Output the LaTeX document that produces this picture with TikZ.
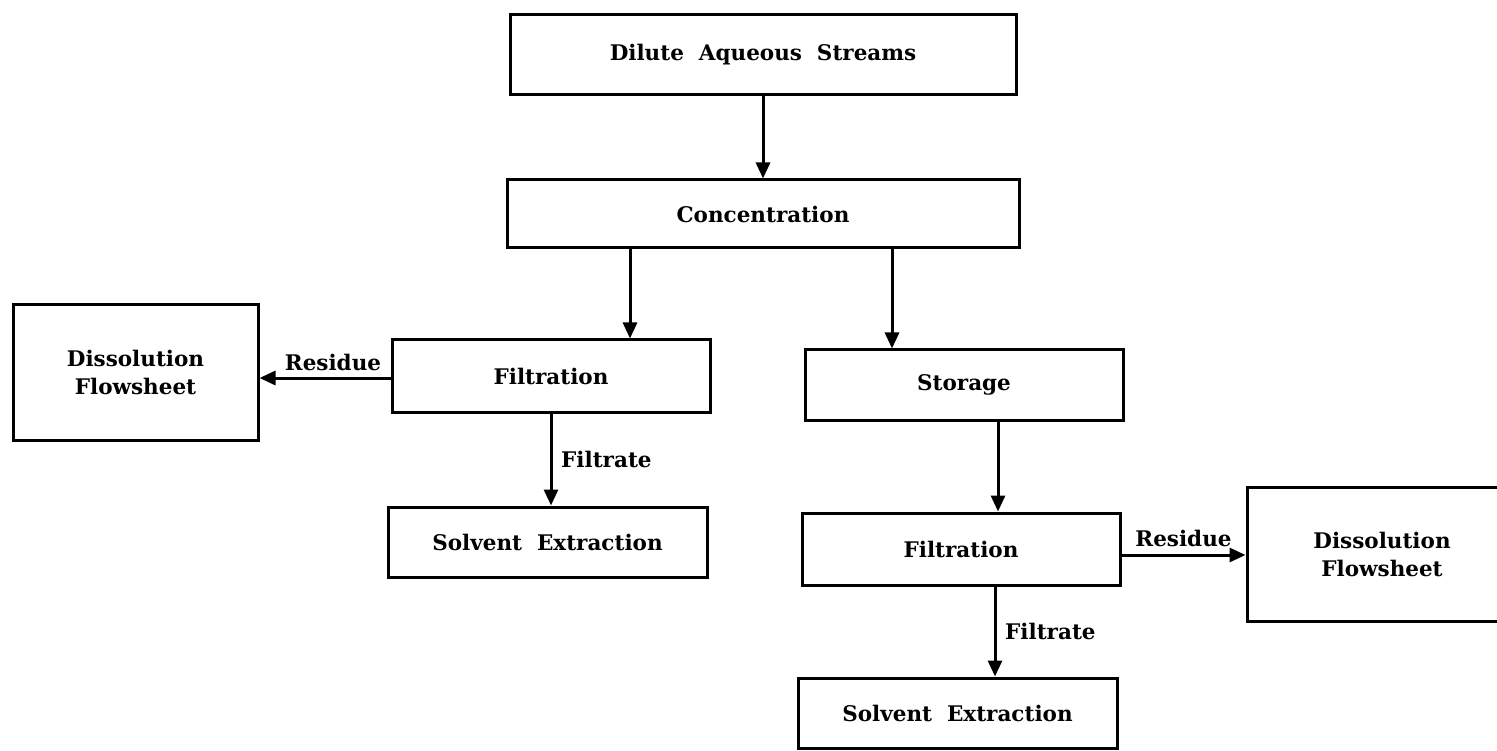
\documentclass[tikz,border=0pt]{standalone}
\usepackage{fontspec}
\setmainfont{DejaVu Serif}
\usetikzlibrary{arrows.meta}
\tikzset{
  box/.style={draw, line width=3pt, inner sep=0pt, align=center, font=\fontsize{21.5}{28}\selectfont\bfseries},
  arr/.style={draw, line width=3pt, -{Triangle[length=16pt,width=14pt]}},
  lbl/.style={inner sep=0pt, font=\fontsize{21.5}{28}\selectfont\bfseries}
}
\begin{document}
\begin{tikzpicture}[x=1pt,y=-1pt]
\useasboundingbox (0,0) rectangle (1497,751);
\node[box, minimum width=506pt, minimum height=80pt] (dil) at (763,55) {Dilute\ \ Aqueous\ \ Streams};
\node[box, minimum width=512pt, minimum height=68pt] (conc) at (763,214) {Concentration};
\node[box, minimum width=318pt, minimum height=72pt] (filtL) at (551,376) {Filtration};
\node[box, minimum width=245pt, minimum height=135pt] (dissL) at (135.5,372.5) {Dissolution\\Flowsheet};
\node[box, minimum width=319pt, minimum height=70pt] (solvL) at (547.5,542) {Solvent\ \ Extraction};
\node[box, minimum width=318pt, minimum height=70pt] (stor) at (964,385) {Storage};
\node[box, minimum width=318pt, minimum height=72pt] (filtR) at (961,549) {Filtration};
\node[box, minimum width=270pt, minimum height=134pt] (dissR) at (1382,554) {Dissolution\\Flowsheet};
\node[box, minimum width=319pt, minimum height=70pt] (solvR) at (957.5,713) {Solvent\ \ Extraction};

\draw[arr] (dil.south) -- (conc.north);
\draw[arr] ([xshift=-133pt]conc.south) -- ([xshift=-133pt]conc.south |- filtL.north);
\draw[arr] ([xshift=129pt]conc.south) -- ([xshift=129pt]conc.south |- stor.north);
\draw[arr] ([yshift=-2pt]filtL.west) -- coordinate[midway] (rL) ([yshift=-2pt]filtL.west -| dissL.east);
\node[lbl, anchor=south] (resL) at ([xshift=8pt,yshift=7pt]rL) {Residue};
\draw[arr] (filtL.south) -- coordinate[midway] (fL) (filtL.south |- solvL.north);
\node[lbl, anchor=west] (filtrL) at ([xshift=10pt]fL) {Filtrate};
\draw[arr] ([xshift=34pt]stor.south) -- ([xshift=34pt]stor.south |- filtR.north);
\draw[arr] ([yshift=-6pt]filtR.east) -- coordinate[midway] (rR) ([yshift=-6pt]filtR.east -| dissR.west);
\node[lbl, anchor=south] (resR) at ([yshift=8pt]rR) {Residue};
\draw[arr] ([xshift=34pt]filtR.south) -- coordinate[midway] (fR) ([xshift=34pt]filtR.south |- solvR.north);
\node[lbl, anchor=west] (filtrR) at ([xshift=10pt]fR) {Filtrate};
\end{tikzpicture}
\end{document}
